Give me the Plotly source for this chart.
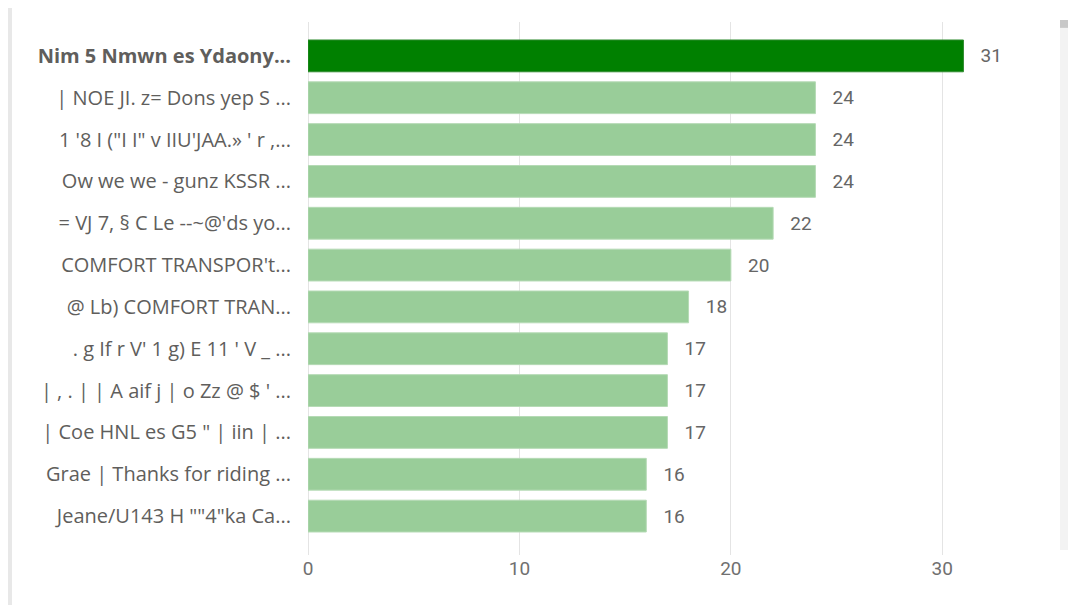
import plotly.graph_objects as go

categories = [
    "Nim 5 Nmwn es Ydaony...",
    "| NOE JI. z= Dons yep S ...",
    "1 '8 I (\"I I\" v IIU'JAA.» ' r ,...",
    "Ow we we - gunz KSSR ...",
    "= VJ 7, § C Le --~@'ds yo...",
    "COMFORT TRANSPOR't...",
    "@ Lb) COMFORT TRAN...",
    ". g If r V' 1 g) E 11 ' V _ ...",
    "| , . | | A aif j | o Zz @ $ ' ...",
    "| Coe HNL es G5 \" | iin | ...",
    "Grae | Thanks for riding ...",
    "Jeane/U143 H \"\"4\"ka Ca...",
]
values = [31, 24, 24, 24, 22, 20, 18, 17, 17, 17, 16, 16]
highlight = [True] + [False] * 11
x_ticks = [0, 10, 20, 30]

# plot bottom-to-top so first category appears at top
cats_r = categories[::-1]
vals_r = values[::-1]
hl_r = highlight[::-1]
colors = ["#008000" if h else "#99cd99" for h in hl_r]
line_colors = ["#2e8b2e" if h else "#b5dab5" for h in hl_r]

ticktext = [f"<b>{c}</b>" if h else c for c, h in zip(cats_r, hl_r)]

fig = go.Figure()
fig.add_trace(go.Bar(
    y=list(range(len(cats_r))),
    x=vals_r,
    orientation="h",
    marker=dict(color=colors, line=dict(color=line_colors, width=1)),
    text=[f"   {v}" for v in vals_r],
    textposition="outside",
    textfont=dict(family="Roboto, sans-serif", size=19, color="#666666"),
    cliponaxis=False,
    hoverinfo="skip",
))

fig.update_layout(
    width=1068, height=597,
    margin=dict(l=300, r=28, t=14, b=50),
    paper_bgcolor="white",
    plot_bgcolor="white",
    bargap=0.24,
    showlegend=False,
    font=dict(family="Open Sans, Segoe UI, sans-serif", color="#605e5c"),
    xaxis=dict(
        range=[0, 35],
        tickvals=x_ticks,
        ticktext=[str(t) for t in x_ticks],
        showgrid=True, gridcolor="#e4e4e4", gridwidth=1,
        zeroline=True, zerolinecolor="#e4e4e4", zerolinewidth=1,
        showline=False,
        tickfont=dict(family="Roboto, sans-serif", size=19, color="#707070"),
        ticks="", ticklabelstandoff=0,
        fixedrange=True,
    ),
    yaxis=dict(
        range=[-0.93, 11.81],
        tickvals=list(range(len(cats_r))),
        ticktext=ticktext,
        showgrid=False, zeroline=False, showline=False,
        tickfont=dict(size=20, color="#605e5c"),
        ticks="", ticklabelstandoff=16,
        fixedrange=True,
    ),
    shapes=[
        # left grey strip
        dict(type="rect", xref="paper", yref="paper", x0=-0.42, x1=-0.4, y0=-0.1, y1=1.05,
             fillcolor="#e8e8e8", line=dict(width=0), layer="below"),
        # scrollbar track
        dict(type="rect", xref="paper", yref="paper", x0=1.0162, x1=1.04, y0=0.0094, y1=1.0038,
             fillcolor="#f3f3f3", line=dict(width=0)),
        # scrollbar thumb
        dict(type="rect", xref="paper", yref="paper", x0=1.0162, x1=1.04, y0=0.989, y1=1.0038,
             fillcolor="#c8c8c8", line=dict(width=0)),
    ],
)

fig.write_html("out.html")
